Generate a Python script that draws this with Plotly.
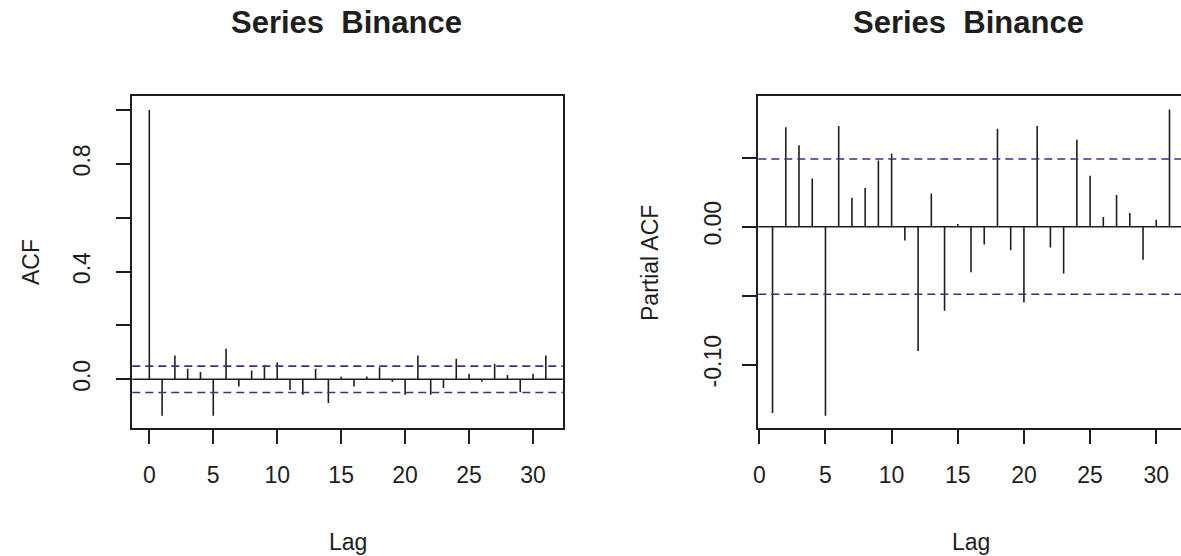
import plotly.graph_objects as go

# ---------------- data ----------------
acf_lags = list(range(0, 32))
acf_vals = [1.0, -0.135, 0.088, 0.039, 0.027, -0.135, 0.113, -0.027, 0.033, 0.052,
            0.062, -0.040, -0.057, 0.039, -0.088, 0.009, -0.027, 0.010, 0.045, -0.009,
            -0.057, 0.088, -0.057, -0.032, 0.076, 0.021, -0.009, 0.058, 0.016, -0.048,
            0.021, 0.088]
pacf_lags = list(range(1, 32))
pacf_vals = [-0.135, 0.072, 0.059, 0.035, -0.137, 0.073, 0.021, 0.028, 0.048, 0.053,
             -0.010, -0.090, 0.024, -0.061, 0.002, -0.033, -0.013, 0.071, -0.017, -0.055,
             0.073, -0.015, -0.034, 0.063, 0.037, 0.007, 0.023, 0.010, -0.024, 0.005,
             0.085]
ci_bound = 0.049
x_ticks = [0, 5, 10, 15, 20, 25, 30]
acf_yticks = [0.0, 0.2, 0.4, 0.6, 0.8, 1.0]
acf_yticklabels = ["0.0", "", "0.4", "", "0.8", ""]
pacf_yticks = [-0.10, -0.05, 0.0, 0.05]
pacf_yticklabels = ["-0.10", "", "0.00", ""]
title_text = "Series \u00a0Binance"

W, H = 1181, 556
FONT = "Liberation Sans, Arial, sans-serif"
INK = "#1e1e1e"
CI_COL = "#33338a"


def spikes(lags, vals):
    xs, ys = [], []
    for l, v in zip(lags, vals):
        xs += [l, l, None]
        ys += [0, v, None]
    return xs, ys


fig = go.Figure()
ax, ay = spikes(acf_lags, acf_vals)
fig.add_trace(go.Scatter(x=ax, y=ay, mode="lines", line=dict(color=INK, width=1.6),
                         xaxis="x", yaxis="y", showlegend=False, hoverinfo="skip"))
px_, py_ = spikes(pacf_lags, pacf_vals)
fig.add_trace(go.Scatter(x=px_, y=py_, mode="lines", line=dict(color=INK, width=1.6),
                         xaxis="x2", yaxis="y2", showlegend=False, hoverinfo="skip"))

# zero lines and confidence bounds
for xr, yr in (("x domain", "y"), ("x2 domain", "y2")):
    fig.add_shape(type="line", xref=xr, yref=yr, x0=0, x1=1, y0=0, y1=0,
                  line=dict(color=INK, width=1.6))
    for b in (ci_bound, -ci_bound):
        fig.add_shape(type="line", xref=xr, yref=yr, x0=0, x1=1, y0=b, y1=b,
                      line=dict(color=CI_COL, width=1.6, dash="8px,5px"))

y0p = (H - 428.3) / H
y1p = (H - 96) / H

axis_common = dict(showgrid=False, zeroline=False, showline=True, linecolor=INK,
                   linewidth=1.6, ticks="outside", tickcolor=INK, tickwidth=1.6,
                   automargin=False,
                   tickfont=dict(family=FONT, size=23, color=INK))

fig.update_layout(
    template="none",
    width=W, height=H, margin=dict(l=0, r=0, t=0, b=0, pad=0, autoexpand=False),
    paper_bgcolor="white", plot_bgcolor="white", showlegend=False,
    xaxis=dict(domain=[132.3 / W, 562.7 / W], range=[-1.33, 32.32], anchor="y",
               tickvals=x_ticks, ticklen=14, ticklabelstandoff=11, mirror=True,
               **axis_common),
    yaxis=dict(domain=[y0p, y1p], range=[-0.182, 1.052], anchor="x",
               tickvals=acf_yticks, ticktext=acf_yticklabels, tickangle=-90,
               ticklen=15, ticklabelstandoff=16, mirror=True, **axis_common),
    xaxis2=dict(domain=[758.3 / W, 1.0], range=[-0.076, 31.87], anchor="y2",
                tickvals=x_ticks, ticklen=14, ticklabelstandoff=11, mirror=True,
                **axis_common),
    yaxis2=dict(domain=[y0p, y1p], range=[-0.1461, 0.0947], anchor="x2",
                tickvals=pacf_yticks, ticktext=pacf_yticklabels, tickangle=-90,
                ticklen=15, ticklabelstandoff=11, mirror=False, **axis_common),
)

def ann(text, x_px, y_px, size, bold=False, angle=0, yanchor="middle"):
    fig.add_annotation(text=("<b>%s</b>" % text) if bold else text,
                       x=x_px / W, y=1 - y_px / H, xref="paper", yref="paper",
                       xanchor="center", yanchor=yanchor, showarrow=False,
                       textangle=angle, font=dict(family=FONT, size=size, color=INK))

ann(title_text, 346.5, 23, 31, bold=True)
ann(title_text, 968.5, 23, 31, bold=True)
ann("Lag", 347.5, 542, 23)
ann("Lag", 971, 542, 23)
ann("ACF", 31, 262, 23, angle=-90)
ann("Partial ACF", 650, 263, 23, angle=-90)

fig.write_html("out.html")
